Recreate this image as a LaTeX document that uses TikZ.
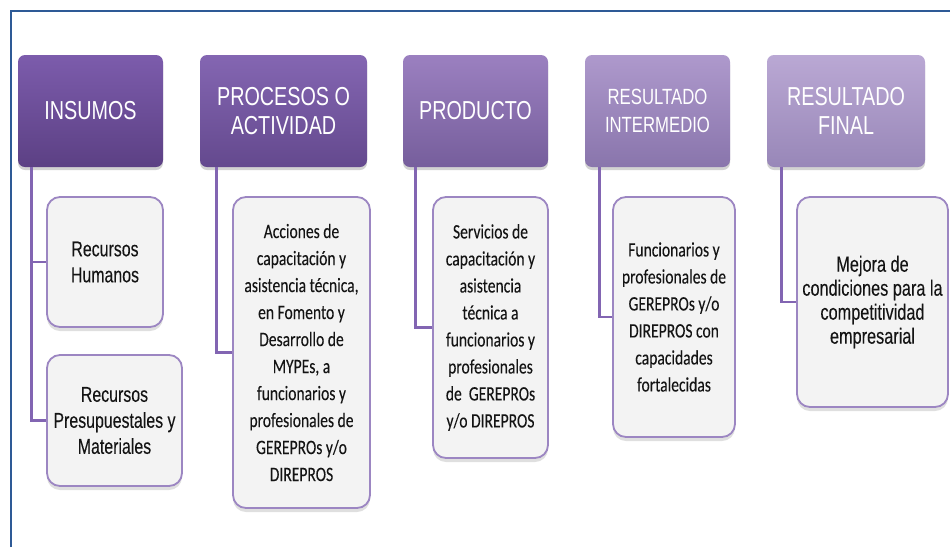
\documentclass[tikz,border=0pt]{standalone}
\usepackage{fontspec}
\setmainfont{Liberation Sans}
\newfontfamily\headfont[FakeStretch=0.76]{Liberation Sans}
\newfontfamily\arialfont[FakeStretch=0.74,FakeBold=0.12]{Liberation Sans}
\newfontfamily\calfont[FakeStretch=0.76,FakeBold=0.12]{Carlito}
\usetikzlibrary{positioning,shadows}
\definecolor{frameblue}{HTML}{2E5A96}
\definecolor{linkpurple}{HTML}{8265B2}
\definecolor{leafline}{HTML}{9C86C2}
\definecolor{leaffill}{HTML}{F3F3F3}

\begin{document}
\begin{tikzpicture}[x=1pt, y=-1pt,
    header/.style={rectangle, rounded corners=7pt, inner sep=0pt, minimum height=112pt, text=white, align=center,
        font=\headfont\fontsize{26}{29}\selectfont,
        drop shadow={shadow xshift=0pt, shadow yshift=-3pt, opacity=0.35}},
    leaf/.style={rectangle, rounded corners=13pt, draw=leafline, line width=1.8pt, fill=leaffill, inner sep=0pt, align=center,
        text=black!92, font=\calfont\fontsize{20.5}{27}\selectfont,
        drop shadow={shadow xshift=0pt, shadow yshift=-4pt, opacity=0.25}},
    leafarial/.style={leaf, font=\arialfont\fontsize{21.5}{26}\selectfont},
    link/.style={draw=linkpurple, line width=2.8pt}]
        \def\linkgap{15pt}

        \useasboundingbox (0,0) rectangle (950,547);
        \fill[white] (0,0) rectangle (950,547);
        \draw[frameblue, line width=2pt] (11,547) -- (11,11) -- (950,11);

        \node[header, minimum width=145pt, top color={rgb,255:red,124;green,92;blue,172}, bottom color={rgb,255:red,92;green,64;blue,132}] (ins) at (90.5,111) {INSUMOS};
        \node[header, minimum width=167pt, top color={rgb,255:red,132;green,102;blue,178}, bottom color={rgb,255:red,100;green,73;blue,142}] (proc) at (283.5,111) {PROCESOS O\\ACTIVIDAD};
        \node[header, minimum width=145pt, top color={rgb,255:red,155;green,128;blue,192}, bottom color={rgb,255:red,118;green,94;blue,156}] (prod) at (475.5,111) {PRODUCTO};
        \node[header, minimum width=145pt, top color={rgb,255:red,174;green,153;blue,204}, bottom color={rgb,255:red,137;green,117;blue,172}, font=\headfont\fontsize{22}{28}\selectfont] (rint) at (657.5,111) {RESULTADO\\INTERMEDIO};
        \node[header, minimum width=158pt, top color={rgb,255:red,186;green,168;blue,212}, bottom color={rgb,255:red,152;green,135;blue,184}] (rfin) at (846,111) {RESULTADO\\FINAL};

        \node[leafarial, minimum width=116pt, minimum height=130pt] (ins1) at (105,262) {Recursos\\Humanos};
        \node[leafarial, minimum width=135pt, minimum height=131pt] (ins2) at (114.5,420.5) {Recursos\\Presupuestales y\\Materiales};
        \node[leaf, minimum width=137pt, minimum height=311pt] (proc1) at (301.5,352.5) {Acciones de\\capacitación y\\asistencia técnica,\\en Fomento y\\Desarrollo de\\MYPEs, a\\funcionarios y\\profesionales de\\GEREPROs y/o\\DIREPROS};
        \node[leaf, minimum width=115pt, minimum height=261pt] (prod1) at (490.5,327.5) {Servicios de\\capacitación y\\asistencia\\técnica a\\funcionarios y\\profesionales\\de\ \ GEREPROs\\y/o DIREPROS};
        \node[leaf, minimum width=122pt, minimum height=240pt] (rint1) at (674,317) {Funcionarios y\\profesionales de\\GEREPROs y/o\\DIREPROS con\\capacidades\\fortalecidas};
        \node[leafarial, minimum width=151pt, minimum height=210pt, font=\arialfont\fontsize{22}{24}\selectfont] (rfin1) at (872.5,302) {Mejora de\\condiciones para la\\competitividad\\empresarial};

        \draw[link] ([xshift=14pt]ins.south west) |- (ins1.west);
        \draw[link] ([xshift=14pt]ins.south west) |- (ins2.west);
        \draw[link] ([xshift=17pt]proc.south west) |- (proc1.west);
        \draw[link] ([xshift=13pt]prod.south west) |- (prod1.west);
        \draw[link] ([xshift=\linkgap]rint.south west) |- (rint1.west);
        \draw[link] ([xshift=\linkgap]rfin.south west) |- (rfin1.west);
    \end{tikzpicture}
\end{document}
